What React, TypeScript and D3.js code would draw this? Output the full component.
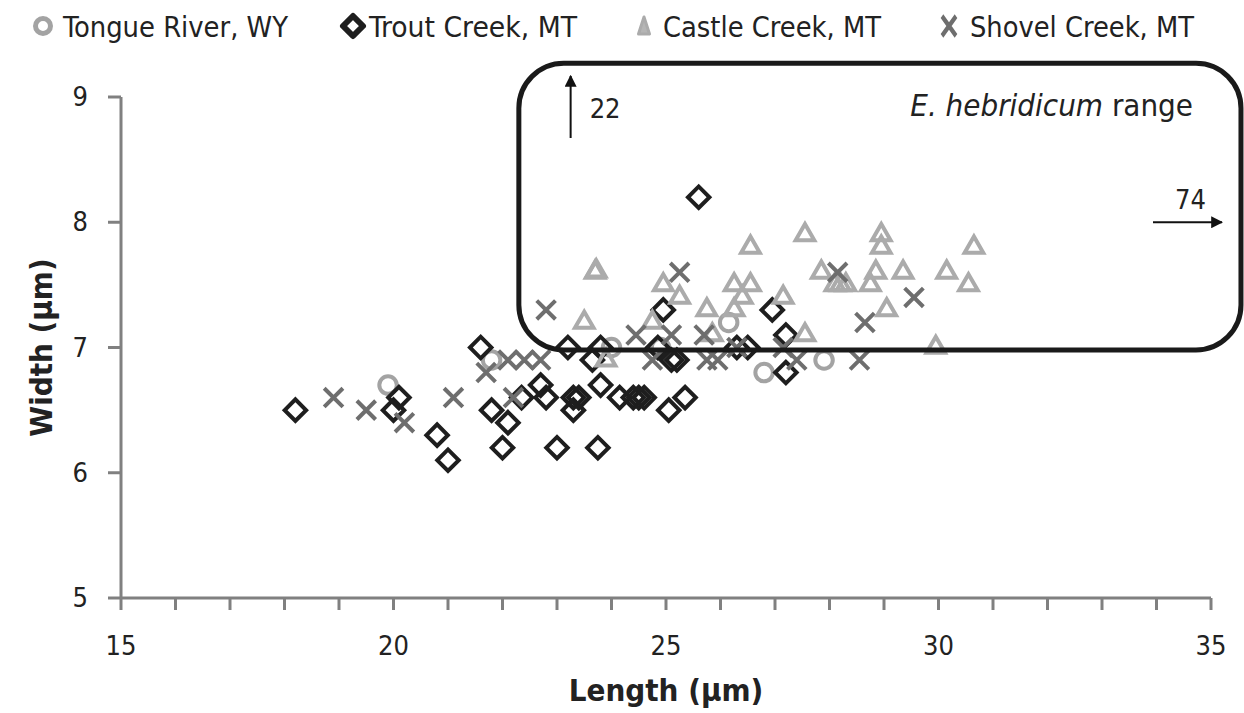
import React from 'react'
import * as d3 from 'd3'

// Tongue River, WY
const tongueLen = [19.9, 21.8, 24.0, 24.9, 26.15, 26.8, 27.9]
const tongueWid = [6.7, 6.9, 7.0, 7.0, 7.2, 6.8, 6.9]

// Trout Creek, MT
const troutLen = [18.2, 20.0, 20.1, 20.8, 21.0, 21.6, 21.8, 22.0, 22.1, 22.35, 22.7, 22.8, 23.0, 23.2, 23.3, 23.3, 23.4, 23.65, 23.8, 23.8, 23.75, 24.15, 24.4, 24.5, 24.6, 24.85, 24.95, 25.05, 25.1, 25.2, 25.35, 25.6, 26.3, 26.5, 26.95, 27.2, 27.2]
const troutWid = [6.5, 6.5, 6.6, 6.3, 6.1, 7.0, 6.5, 6.2, 6.4, 6.6, 6.7, 6.6, 6.2, 7.0, 6.6, 6.5, 6.6, 6.9, 7.0, 6.7, 6.2, 6.6, 6.6, 6.6, 6.6, 7.0, 7.3, 6.5, 6.9, 6.9, 6.6, 8.2, 7.0, 7.0, 7.3, 7.1, 6.8]

// Castle Creek, MT
const castleLen = [23.5, 23.7, 23.72, 23.9, 24.75, 24.95, 25.25, 25.75, 25.85, 26.25, 26.25, 26.4, 26.55, 26.55, 27.15, 27.55, 27.55, 27.85, 28.1, 28.2, 28.3, 28.75, 28.85, 28.95, 28.95, 29.05, 29.35, 29.95, 30.15, 30.55, 30.65]
const castleWid = [7.2, 7.6, 7.61, 6.9, 7.2, 7.5, 7.4, 7.3, 7.1, 7.3, 7.5, 7.4, 7.5, 7.8, 7.4, 7.9, 7.1, 7.6, 7.5, 7.5, 7.5, 7.5, 7.6, 7.8, 7.9, 7.3, 7.6, 7.0, 7.6, 7.5, 7.8]

// Shovel Creek, MT
const shovelLen = [18.9, 19.5, 20.2, 21.1, 21.7, 22.1, 22.2, 22.4, 22.7, 22.8, 24.45, 24.75, 25.1, 25.25, 25.7, 25.75, 25.95, 26.3, 27.15, 27.4, 28.15, 28.55, 28.65, 29.55]
const shovelWid = [6.6, 6.5, 6.4, 6.6, 6.8, 6.9, 6.6, 6.9, 6.9, 7.3, 7.1, 6.9, 7.1, 7.6, 7.1, 6.9, 6.9, 7.0, 7.0, 6.9, 7.6, 6.9, 7.2, 7.4]

const xTicks = [15, 20, 25, 30, 35]
const yTicks = [5, 6, 7, 8, 9]
const seriesNames = ['Tongue River, WY', 'Trout Creek, MT', 'Castle Creek, MT', 'Shovel Creek, MT']

const W = 1244, H = 713
const x = d3.scaleLinear().domain([15, 35]).range([121, 1211])
const y = d3.scaleLinear().domain([5, 9]).range([598, 97])

const font = "'Liberation Sans Narrow', 'DejaVu Sans Condensed', 'Open Sans', sans-serif"

const circlePath = d3.symbol(d3.symbolCircle, 240)()
const diamondPath = d3.symbol(d3.symbolSquare, 230)()
const trianglePath = d3.symbol(d3.symbolTriangle, 150)()
const xPath = d3.symbol(d3.symbolX, 230)()

const series = [
  { len: tongueLen, wid: tongueWid, d: circlePath, rot: 0, color: '#a3a3a3' },
  { len: troutLen, wid: troutWid, d: diamondPath, rot: 45, color: '#1e1e1e' },
  { len: castleLen, wid: castleWid, d: trianglePath, rot: 0, color: '#ababab' },
  { len: shovelLen, wid: shovelWid, d: xPath, rot: 0, color: '#6e6e6e' },
]

// legend layout (marker x, text start, text width)
const legendMarkX = [43, 353, 644, 949]
const legendTextX = [63, 369, 663, 970]
const legendTextW = [225, 208, 218, 224]

export default function App() {
  const axisColor = '#808080'
  const minor = d3.range(15, 36)
  const arrowUpX = x(23.25)
  const arrowRightY = y(8)
  return (
    <svg width={W} height={H} style={{ position: 'absolute', left: 0, top: 0, background: '#fff' }} fontFamily={font}>
      <defs>
        <marker id="ah" viewBox="0 0 10 10" refX="9" refY="5" markerWidth="6" markerHeight="6" orient="auto"
          markerUnits="strokeWidth">
          <path d="M0,0 L10,5 L0,10 z" fill="#111" />
        </marker>
      </defs>

      {/* legend */}
      {seriesNames.map((name, i) => (
        <g key={name}>
          {i === 0 && <circle cx={legendMarkX[i]} cy={26} r={7.5} fill="none" stroke={series[i].color} strokeWidth={5} />}
          {i === 1 && <path d="M0,-10 L10,0 L0,10 L-10,0 Z" transform={`translate(${legendMarkX[i]},26)`}
            fill="none" stroke={series[i].color} strokeWidth={6} strokeLinejoin="round" />}
          {i === 2 && <path d="M0,-9 L5.5,8 L-5.5,8 Z" transform={`translate(${legendMarkX[i]},26)`}
            fill="#b5b5b5" stroke={series[i].color} strokeWidth={3} strokeLinejoin="round" />}
          {i === 3 && <path d={xPath} transform={`translate(${legendMarkX[i]},26) scale(0.75,1.05)`}
            fill="none" stroke={series[i].color} strokeWidth={5} />}
          <text x={legendTextX[i]} y={37} fontSize={28} fill="#222" textLength={legendTextW[i]}
            lengthAdjust="spacingAndGlyphs">{name}</text>
        </g>
      ))}

      {/* axes */}
      <line x1={x(15)} x2={x(35)} y1={y(5)} y2={y(5)} stroke={axisColor} strokeWidth={3} />
      <line x1={x(15)} x2={x(15)} y1={y(5)} y2={y(9)} stroke={axisColor} strokeWidth={3} />
      {minor.map(t => (
        <line key={t} x1={x(t)} x2={x(t)} y1={y(5)} y2={y(5) + 12} stroke={axisColor} strokeWidth={3} />
      ))}
      {yTicks.map(t => (
        <g key={t}>
          <line x1={x(15) - 13} x2={x(15)} y1={y(t)} y2={y(t)} stroke={axisColor} strokeWidth={3} />
          <text x={88} y={y(t) + 9} textAnchor="end" fontSize={27} fill="#222">{t}</text>
        </g>
      ))}
      {xTicks.map(t => (
        <text key={t} x={x(t)} y={655} textAnchor="middle" fontSize={27} fill="#222">{t}</text>
      ))}
      <text x={666} y={701} textAnchor="middle" fontSize={31} fontWeight="bold" fill="#222">Length (μm)</text>
      <text transform={`translate(52,${y(7)}) rotate(-90)`} textAnchor="middle" fontSize={31} fontWeight="bold" fill="#222">Width (μm)</text>

      {/* points */}
      {series.map((s, si) => (
        <g key={si}>
          {s.len.map((v, i) => (
            <path key={i} d={s.d} transform={`translate(${x(v)},${y(s.wid[i])}) rotate(${s.rot})`}
              fill="none" stroke={s.color} strokeWidth={4} />
          ))}
        </g>
      ))}

      {/* E. hebridicum range */}
      <rect x={x(22.3)} y={y(9.27)} width={x(35.55) - x(22.3)} height={y(6.98) - y(9.27)} rx={45} ry={45}
        fill="none" stroke="#1a1a1a" strokeWidth={5} />
      <line x1={arrowUpX} x2={arrowUpX} y1={138} y2={76} stroke="#111" strokeWidth={2} markerEnd="url(#ah)" />
      <text x={arrowUpX + 19} y={118} fontSize={27} fill="#222">22</text>
      <line x1={1153} x2={1222} y1={arrowRightY} y2={arrowRightY} stroke="#111" strokeWidth={2} markerEnd="url(#ah)" />
      <text x={1175} y={209} fontSize={27} fill="#222">74</text>
      <text x={1193} y={116} textAnchor="end" fontSize={31} fill="#222">
        <tspan fontStyle="italic">E. hebridicum</tspan> range
      </text>
    </svg>
  )
}
